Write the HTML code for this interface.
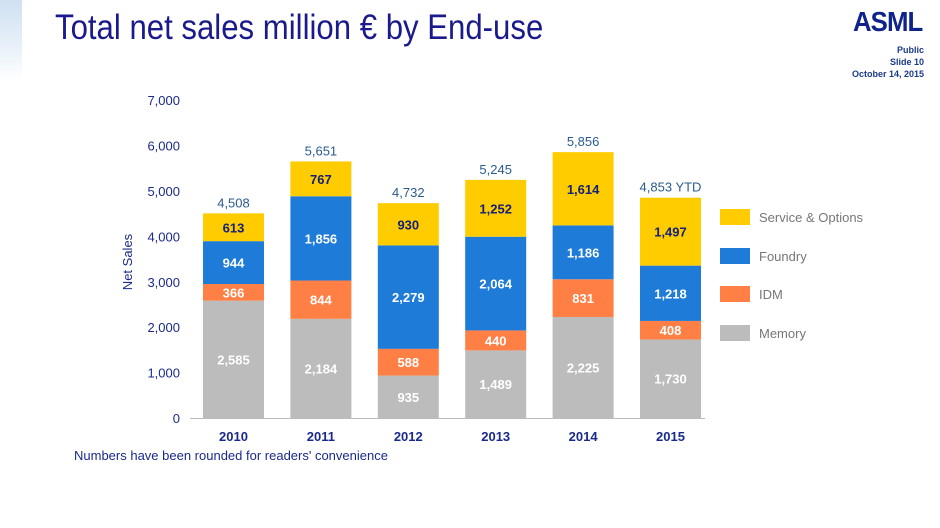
<!DOCTYPE html>
<html><head><meta charset="utf-8"><style>
body{margin:0;width:940px;height:528px;overflow:hidden;background:#fff;font-family:"Liberation Sans",Arial,sans-serif;position:relative}
.abs{position:absolute}
</style></head><body>
<div class="abs" style="left:0;top:0;width:22px;height:80px;background:linear-gradient(180deg,#cfe0f2,#eef4fb 70%,#fff)"></div>
<div class="abs" style="left:55px;top:8px;font-size:35px;color:#1a1a8c;transform:scaleX(0.89);transform-origin:left top;white-space:nowrap">Total net sales million € by End-use</div>
<div class="abs" style="left:853px;top:6px;font-size:28px;font-weight:bold;color:#0f238c;letter-spacing:-1px;transform:scaleX(0.92);transform-origin:left top">ASML</div>
<div class="abs" style="right:16px;top:44px;font-size:9px;font-weight:bold;color:#1a3a8c;text-align:right;line-height:12px">Public<br>Slide 10</div>
<div class="abs" style="right:16px;top:69px;font-size:9px;font-weight:bold;color:#1a3a8c">October 14, 2015</div>
<svg class="abs" style="left:0;top:0" width="940" height="528">
<g id="g"></g>
<text x="132" y="262" transform="rotate(-90 132 262)" text-anchor="middle" font-size="13" fill="#1a2a8c">Net Sales</text>
<text x="74" y="460" font-size="13" fill="#1a2a8c">Numbers have been rounded for readers' convenience</text>
</svg>
<script>
const years=["2010","2011","2012","2013","2014","2015"];
const memory=[2585,2184,935,1489,2225,1730];
const idm=[366,844,588,440,831,408];
const foundry=[944,1856,2279,2064,1186,1218];
const service=[613,767,930,1252,1614,1497];
const totals=["4,508","5,651","4,732","5,245","5,856","4,853 YTD"];
const yTicks=[0,1000,2000,3000,4000,5000,6000,7000];
const seriesNames=["Memory","IDM","Foundry","Service & Options"];
const NS="http://www.w3.org/2000/svg";
const g=document.getElementById('g');
const y=v=>418-v*45.4/1000;
const xc=i=>233.5+i*87.4;
const bw=61;
function mk(t,a,txt){const e=document.createElementNS(NS,t);for(const k in a)e.setAttribute(k,a[k]);if(txt!=null)e.textContent=txt;g.appendChild(e);return e;}
const fmt=v=>v.toLocaleString('en-US');
yTicks.forEach(v=>{
 const t=mk('text',{x:180,y:y(v)+5,'text-anchor':'end','font-size':13,fill:'#1a2a8c'},fmt(v));
 
 
});
const ax=mk('line',{x1:190,x2:705,y1:418.5,y2:418.5,stroke:'#bbb','stroke-width':1});


const series=[memory,idm,foundry,service];
const colors=['#bcbcbc','#ff7f45','#1e7bd8','#ffcc00'];
const txtc=['#fff','#fff','#fff','#14207a'];
const keys=['memory','idm','foundry','service'];
years.forEach((yr,i)=>{
 let base=0;
 series.forEach((s,k)=>{
  const v=s[i];
  const r=mk('rect',{x:xc(i)-bw/2,y:y(base+v),width:bw,height:y(base)-y(base+v),fill:colors[k]});
  
  
  const l=mk('text',{x:xc(i),y:(y(base)+y(base+v))/2+5,'text-anchor':'middle','font-size':13,'font-weight':'bold',fill:txtc[k]},fmt(v));
  
  
  base+=v;
 });
 const t=mk('text',{x:xc(i),y:y(base)-6,'text-anchor':'middle','font-size':13,fill:'#2a5b8f'},totals[i]);
 
 
 const xl=mk('text',{x:xc(i),y:441,'text-anchor':'middle','font-size':13,'font-weight':'bold',fill:'#1a2a8c'},yr);
 
 
});
const ly=[333,294,256,217];
seriesNames.forEach((n,k)=>{
 const r=mk('rect',{x:720,y:ly[k]-8,width:30,height:16,fill:colors[k]});
 
 
 const t=mk('text',{x:759,y:ly[k]+5,'font-size':13,fill:'#777'},n);
 
 
});
</script>
</body></html>
